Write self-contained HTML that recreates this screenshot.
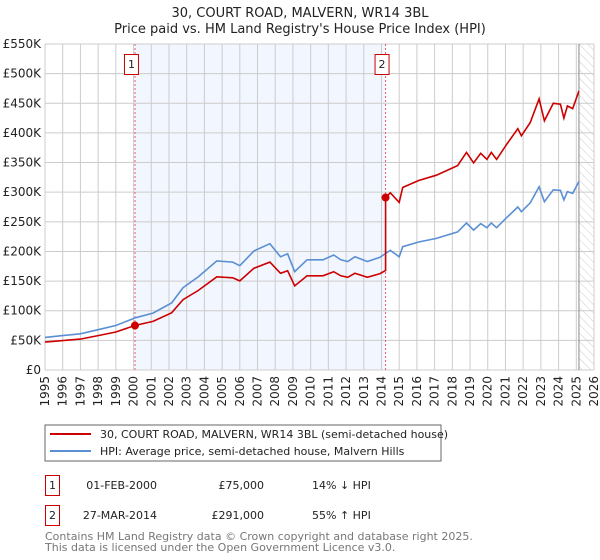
<!DOCTYPE html>
<html><head><meta charset="utf-8"><style>
body{margin:0;background:#fff;}
svg{display:block;font-family:"DejaVu Sans","Liberation Sans",sans-serif;}
</style></head><body>
<svg id="c" width="600" height="560" viewBox="0 0 600 560">
<text x="300" y="17" text-anchor="middle" font-size="13" fill="#222">30, COURT ROAD, MALVERN, WR14 3BL</text>
<text x="300" y="33" text-anchor="middle" font-size="13" fill="#222">Price paid vs. HM Land Registry's House Price Index (HPI)</text>
<g id="plot"></g>
<g>
<rect x="45" y="425" width="396" height="36" fill="#fff" stroke="#666" stroke-width="1"/>
<line x1="50" y1="434" x2="91" y2="434" stroke="#cc0000" stroke-width="2"/>
<text x="100" y="438" font-size="11" fill="#222">30, COURT ROAD, MALVERN, WR14 3BL (semi-detached house)</text>
<line x1="50" y1="451" x2="91" y2="451" stroke="#5b8fd4" stroke-width="2"/>
<text x="100" y="455" font-size="11" fill="#222">HPI: Average price, semi-detached house, Malvern Hills</text>
</g>
<g font-size="11" fill="#222">
<rect x="45.5" y="475.5" width="14" height="20" fill="#fff" stroke="#cc0000"/>
<text x="52.5" y="489" text-anchor="middle">1</text>
<text x="157" y="489" text-anchor="end">01-FEB-2000</text>
<text x="264" y="489" text-anchor="end">£75,000</text>
<text x="312" y="489">14% ↓ HPI</text>
<rect x="45.5" y="505.5" width="14" height="20" fill="#fff" stroke="#cc0000"/>
<text x="52.5" y="519" text-anchor="middle">2</text>
<text x="157" y="519" text-anchor="end">27-MAR-2014</text>
<text x="264" y="519" text-anchor="end">£291,000</text>
<text x="312" y="519">55% ↑ HPI</text>
</g>
<text x="45" y="540" font-size="11" fill="#777">Contains HM Land Registry data © Crown copyright and database right 2025.</text>
<text x="45" y="551" font-size="11" fill="#777">This data is licensed under the Open Government Licence v3.0.</text>
</svg>
<script>
const hpiYears=[1995,1996,1997,1998,1999,2000.1,2001.1,2002.15,2002.8,2003.65,2004.7,2005.6,2006,2006.8,2007.7,2008.3,2008.7,2009.1,2009.8,2010.7,2011.3,2011.7,2012.1,2012.5,2013.2,2013.9,2014.5,2015,2015.2,2016.1,2017.1,2018.3,2018.8,2019.2,2019.6,2019.95,2020.2,2020.5,2021.1,2021.7,2021.9,2022.4,2022.9,2023.2,2023.7,2024.1,2024.3,2024.5,2024.8,2025.15];
const hpiValues=[55,58,61,68,75,88,96,113,139,157,184,182,176,201,213,191,196,166,186,186,194,186,183,191,183,190,202,191,208,216,222,233,248,236,247,240,248,240,258,275,267,282,309,284,304,303,287,301,298,318];
const saleYears=[2000.08,2014.23];
const salePrices=[75,291];
const saleLabels=["1","2"];
const yTicks=[0,50,100,150,200,250,300,350,400,450,500,550];
const yTickLabels=["£0","£50K","£100K","£150K","£200K","£250K","£300K","£350K","£400K","£450K","£500K","£550K"];
const xTicks=[1995,1996,1997,1998,1999,2000,2001,2002,2003,2004,2005,2006,2007,2008,2009,2010,2011,2012,2013,2014,2015,2016,2017,2018,2019,2020,2021,2022,2023,2024,2025,2026];

const NS="http://www.w3.org/2000/svg";
const X0=45,X1=594,Y0=370,Y1=44;
const xs=y=>X0+(y-1995)/(2026-1995)*(X1-X0);
const ys=v=>Y0-v/550*(Y0-Y1);
const g=document.getElementById('plot');
function mk(t,a){const e=document.createElementNS(NS,t);for(const k in a)e.setAttribute(k,a[k]);g.appendChild(e);return e;}
function hpiAt(t){for(let i=0;i<hpiYears.length-1;i++){if(t<=hpiYears[i+1]){const f=(t-hpiYears[i])/(hpiYears[i+1]-hpiYears[i]);return hpiValues[i]+f*(hpiValues[i+1]-hpiValues[i]);}}return hpiValues[hpiValues.length-1];}
const lastYear=hpiYears[hpiYears.length-1];
let r=mk('rect',{x:xs(saleYears[0]),y:Y1,width:xs(saleYears[1])-xs(saleYears[0]),height:Y0-Y1,fill:'#f2f6fe'});


const defs=document.createElementNS(NS,'defs');defs.innerHTML='<pattern id="h" width="6" height="6" patternUnits="userSpaceOnUse" patternTransform="rotate(-45)"><line x1="0" y1="0" x2="0" y2="6" stroke="#ccc" stroke-width="1"/></pattern>';g.appendChild(defs);
r=mk('rect',{x:xs(lastYear),y:Y1,width:X1-xs(lastYear),height:Y0-Y1,fill:'url(#h)'});


yTicks.forEach((v,i)=>{
 let l=mk('line',{x1:X0,x2:X1,y1:ys(v),y2:ys(v),stroke:'#ccc','stroke-width':1});
 
 
 let t=mk('text',{x:X0-4,y:ys(v)+4,'text-anchor':'end','font-size':12,fill:'#222'});t.textContent=yTickLabels[i];
 
 
});
xTicks.forEach(y=>{
 let l=mk('line',{x1:xs(y),x2:xs(y),y1:Y1,y2:Y0,stroke:'#ccc','stroke-width':1});
 
 
 const tx=xs(y)+4,ty=376;
 let t=mk('text',{x:tx,y:ty,'text-anchor':'end','font-size':12,fill:'#222',transform:`rotate(-90 ${tx} ${ty})`});t.textContent=y;
 
 
});
let dl=mk('line',{x1:xs(lastYear),x2:xs(lastYear),y1:Y1,y2:Y0,stroke:'#888','stroke-width':1});


saleYears.forEach((s,i)=>{
 let l=mk('line',{x1:xs(s),x2:xs(s),y1:Y1,y2:Y0,stroke:'#e06060','stroke-width':1,'stroke-dasharray':'2,2'});
 
 
 let b=mk('rect',{x:xs(s)-10.5,y:54.5,width:14,height:20,fill:'#fff',stroke:'#cc0000'});
 
 
 let t=mk('text',{x:xs(s)-3.5,y:68,'text-anchor':'middle','font-size':11,fill:'#222'});t.textContent=saleLabels[i];
 
 
});
let p=hpiYears.map((y,i)=>xs(y).toFixed(1)+','+ys(hpiValues[i]).toFixed(1)).join(' ');
let hl=mk('polyline',{points:p,fill:'none',stroke:'#5b8fd4','stroke-width':1.6});


const f0=salePrices[0]/hpiAt(saleYears[0]),f1=salePrices[1]/hpiAt(saleYears[1]);
let pts=[];
hpiYears.forEach((y,i)=>{if(y<saleYears[1])pts.push([y,hpiValues[i]*f0]);});
pts.push([saleYears[1],hpiAt(saleYears[1])*f0]);pts.push([saleYears[1],salePrices[1]]);
hpiYears.forEach((y,i)=>{if(y>saleYears[1])pts.push([y,hpiValues[i]*f1]);});
let pl=mk('polyline',{points:pts.map(q=>xs(q[0]).toFixed(1)+','+ys(q[1]).toFixed(1)).join(' '),fill:'none',stroke:'#cc0000','stroke-width':1.6});


saleYears.forEach((s,i)=>{
 let c=mk('circle',{cx:xs(s),cy:ys(salePrices[i]),r:4,fill:'#cc0000'});
 
 
});
</script>
</body></html>
